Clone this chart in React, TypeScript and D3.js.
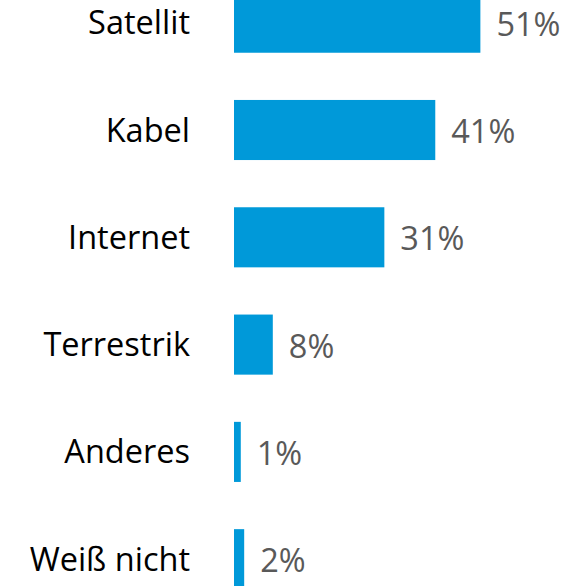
import React from "react";
import * as d3 from "d3";

const categories = ["Satellit", "Kabel", "Internet", "Terrestrik", "Anderes", "Weiß nicht"];
const values = [50.8, 41.5, 31, 8, 1.4, 2.1];
const labels = ["51%", "41%", "31%", "8%", "1%", "2%"];

export default function App() {
  const W = 585, H = 586;
  const x = d3.scaleLinear().domain([0, 100]).range([234, 234 + 485]);
  const y = d3.scaleBand<string>().domain(categories).range([-30.95, 612.85]).paddingInner(0.44).paddingOuter(0.22);
  const bw = y.bandwidth();
  return (
    <svg width={W} height={H} style={{ position: "absolute", left: 0, top: 0, display: "block" }}>
      <rect width={W} height={H} fill="#fff" />
      {categories.map((c, i) => {
        const y0 = y(c)!;
        const cy = y0 + bw / 2;
        return (
          <g key={c}>
            <rect x={x(0)} y={y0} width={x(values[i]) - x(0)} height={bw} fill="#0099D9" />
            <text x={190} y={cy + 11.5} textAnchor="end" fontFamily="Open Sans" fontSize={32.5} fill="#000">{c}</text>
            <text x={x(values[i]) + 16} y={cy + 13} textAnchor="start" fontFamily="Open Sans" fontSize={32.5} fill="#595959">{labels[i]}</text>
          </g>
        );
      })}
    </svg>
  );
}
